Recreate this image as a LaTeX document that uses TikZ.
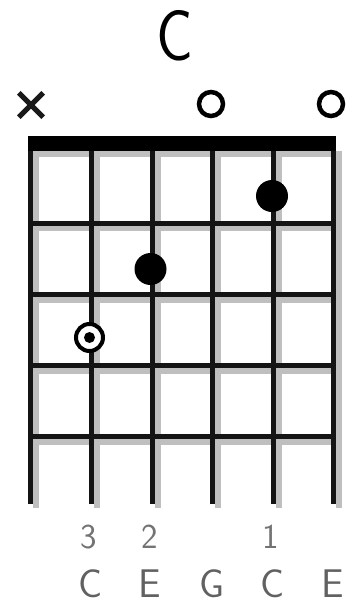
\documentclass[tikz,border=0pt]{standalone}
\begin{document}
\begin{tikzpicture}[x=1pt,y=-1pt,
  gridline/.style={line width=5pt, black!92},
  shadeline/.style={line width=5.5pt, black!25},
  fingerdot/.style={circle, fill=black, minimum size=32pt, inner sep=0pt},
  rootdot/.style={circle, draw=black, line width=4pt, fill=white, minimum size=27pt, inner sep=0pt},
  opendot/.style={circle, draw=black, line width=4.5pt, minimum size=24pt, inner sep=0pt},
  fingerlabel/.style={font=\fontsize{35}{35}\sffamily, text=black!55, inner sep=0pt},
  notelabel/.style={font=\fontsize{40}{40}\sffamily, text=black!62, inner sep=0pt},
  titlelabel/.style={font=\fontsize{72}{72}\sffamily, text=black, inner sep=0pt, xscale=0.85}]
\useasboundingbox (0,0) rectangle (347,606);
% shadows
\foreach \x in {30.5,91.5,152.5,212.5,273.5,333.5}
  \draw[shadeline] (\x+5.5,151) -- (\x+5.5,508);
\foreach \y in {223,294.5,365.5,436.5}
  \draw[shadeline] (33,\y+5.5) -- (341,\y+5.5);
\fill[black!25] (33,151) rectangle (341,157);
% strings
\foreach \x in {30.5,91.5,152.5,212.5,273.5,333.5}
  \draw[gridline] (\x,136) -- (\x,504);
% frets
\foreach \y in {223,294.5,365.5,436.5}
  \draw[gridline] (28,\y) -- (336,\y);
% nut
\fill[black] (28,136) rectangle (336,151);
% title
\node[titlelabel] (title) at (175,36) {C};
% top markers
\node[minimum size=24pt, inner sep=0pt] (mute) at (31,105) {};
\draw[line width=5pt, black!90] (mute.north west) -- (mute.south east)
  (mute.south west) -- (mute.north east);
\node[opendot] (open4) at (211,104) {};
\node[opendot] (open6) at (331,104) {};
% fretted notes
\node[fingerdot] (f5) at (272,196) {};
\node[fingerdot] (f3) at (150.5,269) {};
\node[rootdot] (f2) at (89.5,337.5) {};
\fill[black] (f2.center) circle (5.5);
% finger numbers
\node[fingerlabel] (n2) at (89,537) {3};
\node[fingerlabel] (n3) at (150,537) {2};
\node[fingerlabel] (n5) at (271,537) {1};
% note names
\node[notelabel] (c2) at (91,584) {C};
\node[notelabel] (c3) at (150,584) {E};
\node[notelabel] (c4) at (212,584) {G};
\node[notelabel] (c5) at (273,584) {C};
\node[notelabel] (c6) at (333,584) {E};
\end{tikzpicture}
\end{document}
